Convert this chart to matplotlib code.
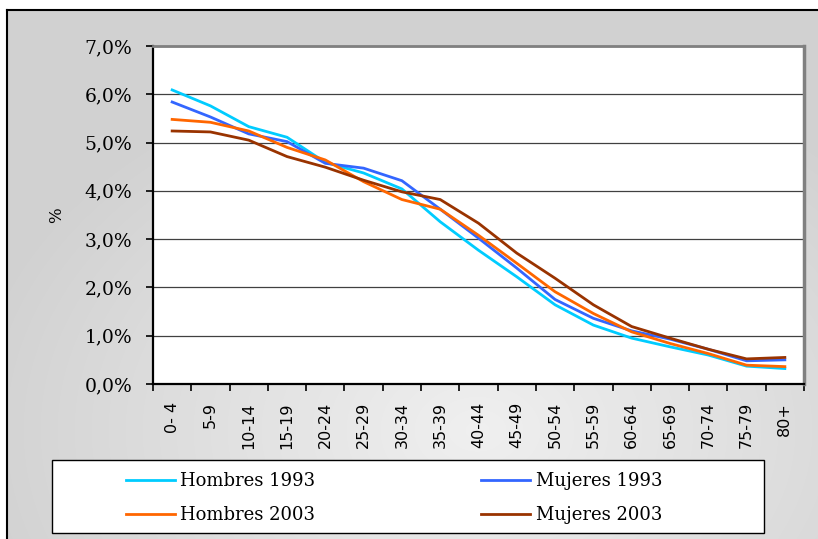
import numpy as np
import matplotlib
matplotlib.use("Agg")
import matplotlib.pyplot as plt
from matplotlib.ticker import FuncFormatter
from matplotlib.patches import Rectangle

# grupos de edad
edades = ["0- 4", "5-9", "10-14", "15-19", "20-24", "25-29", "30-34", "35-39",
          "40-44", "45-49", "50-54", "55-59", "60-64", "65-69", "70-74", "75-79", "80+"]

# porcentajes
hombres_1993 = [6.09, 5.76, 5.33, 5.11, 4.59, 4.37, 4.04, 3.36, 2.77, 2.22,
                1.64, 1.22, 0.95, 0.77, 0.60, 0.37, 0.32]
mujeres_1993 = [5.84, 5.53, 5.18, 5.02, 4.57, 4.47, 4.21, 3.62, 3.02, 2.40,
                1.75, 1.36, 1.10, 0.93, 0.72, 0.48, 0.50]
hombres_2003 = [5.48, 5.42, 5.24, 4.90, 4.64, 4.19, 3.82, 3.62, 3.08, 2.50,
                1.91, 1.46, 1.08, 0.84, 0.63, 0.39, 0.36]
mujeres_2003 = [5.24, 5.22, 5.05, 4.71, 4.49, 4.22, 3.98, 3.82, 3.33, 2.71,
                2.19, 1.64, 1.19, 0.95, 0.72, 0.52, 0.55]

series = [("Hombres 1993", hombres_1993, "#00ccff"),
          ("Mujeres 1993", mujeres_1993, "#3366ff"),
          ("Hombres 2003", hombres_2003, "#ff6600"),
          ("Mujeres 2003", mujeres_2003, "#993300")]

W, H = 818, 539
fig = plt.figure(figsize=(W / 100, H / 100), dpi=100, facecolor="white")

# fondo gris con degradado
bg = fig.add_axes([7 / W, 0, (W - 7) / W, (H - 10) / H], zorder=-10)
yy, xx = np.mgrid[0:H - 10, 0:W - 7]
cx, cy = 470, 420
r = np.sqrt(((xx - cx) / 520.0) ** 2 + ((yy - cy) / 380.0) ** 2)
val = 0.82 + 0.12 * np.clip(1 - r, 0, 1)
bg.imshow(np.dstack([val, val, val]), aspect="auto", extent=[0, 1, 0, 1], origin="upper")
bg.set_xticks([])
bg.set_yticks([])
for s in ["right", "bottom"]:
    bg.spines[s].set_visible(False)
for s in ["left", "top"]:
    bg.spines[s].set_linewidth(1.5)
    bg.spines[s].set_color("black")

ax = fig.add_axes([153 / W, 1 - 384 / H, (804 - 153) / W, (384 - 46) / H])
ax.set_facecolor("white")
x = np.arange(len(edades))
lineas = {}
for nombre, vals, col in series:
    lineas[nombre], = ax.plot(x, vals, color=col, lw=2.0, label=nombre, solid_joinstyle="round")

ax.set_xlim(-0.5, len(edades) - 0.5)
ax.set_ylim(0, 7)
ax.set_yticks(np.arange(0, 8, 1))
ax.yaxis.set_major_formatter(FuncFormatter(lambda v, p: ("%.1f%%" % v).replace(".", ",")))
ax.grid(axis="y", color="#404040", lw=0.9)
ax.set_axisbelow(True)

ax.set_xticks(np.arange(len(edades) + 1) - 0.5)
ax.set_xticklabels([])
ax.set_xticks(x, minor=True)
ax.set_xticklabels(edades, minor=True, rotation=90, family="DejaVu Sans", fontsize=11.5, va="top")
ax.tick_params(axis="x", which="minor", length=0, pad=13)
ax.tick_params(axis="x", which="major", length=5, width=1.2, direction="out")
ax.tick_params(axis="y", length=5, width=1.2, pad=10)
for t in ax.get_yticklabels():
    t.set_family("DejaVu Serif")
    t.set_fontsize(13.5)

ax.spines["left"].set_linewidth(1.6)
ax.spines["bottom"].set_linewidth(1.6)
ax.spines["top"].set_color("#808080")
ax.spines["right"].set_color("#808080")
ax.spines["top"].set_linewidth(2)
ax.spines["right"].set_linewidth(2.5)

fig.text(57 / W, 1 - 215 / H, "%", rotation=90, family="DejaVu Serif", fontsize=12,
         ha="center", va="center")

# caja de la leyenda
fig.patches.append(Rectangle((52 / W, 1 - 533 / H), 712 / W, 73 / H, transform=fig.transFigure,
                             facecolor="white", edgecolor="black", lw=1.0, zorder=1))
orden = ["Hombres 1993", "Hombres 2003", "Mujeres 1993", "Mujeres 2003"]
leg = fig.legend([lineas[n] for n in orden], orden, loc="upper left",
                 bbox_to_anchor=(126 / W, 1 - 472 / H), ncol=2,
                 frameon=False, borderpad=0, borderaxespad=0, handlelength=2.7,
                 handletextpad=0.3, columnspacing=9.2, labelspacing=0.9,
                 prop={"family": "DejaVu Serif", "size": 13})
leg.set_zorder(2)

fig.savefig("out.png", dpi=100, facecolor="white")
